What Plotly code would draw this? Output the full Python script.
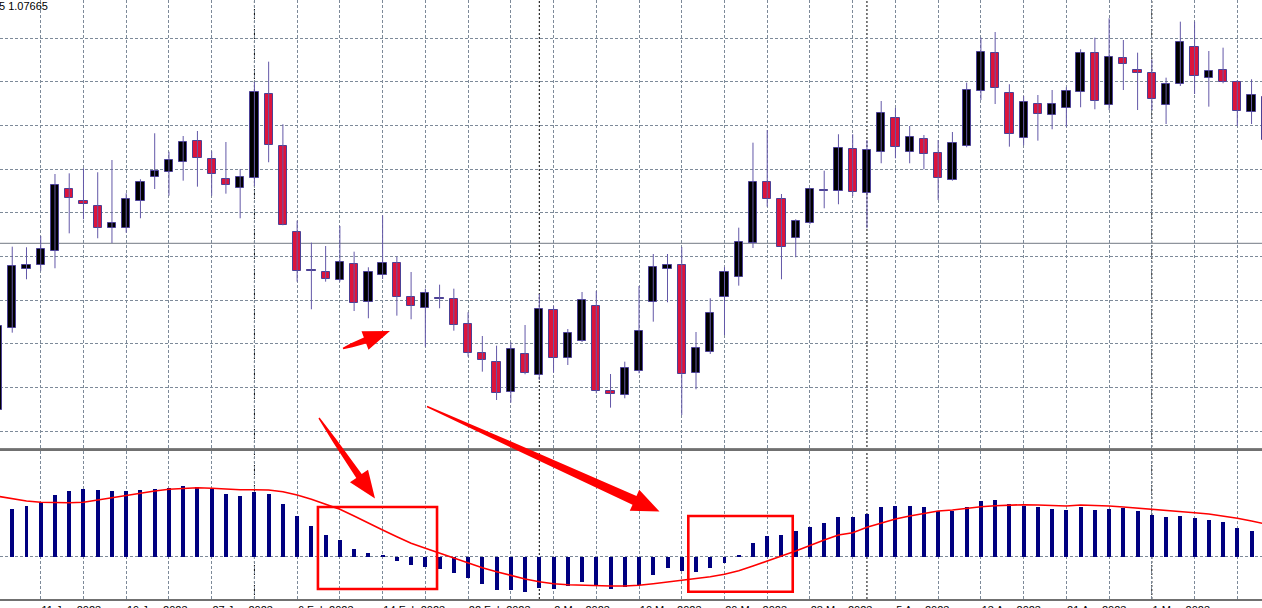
import math
import pandas as pd
import plotly.graph_objects as go

# ---------------- data ----------------
dates = pd.bdate_range("2023-01-06", "2023-05-11")  # daily trading sessions

open_ = [1.05100, 1.06326, 1.07220, 1.07270, 1.07481, 1.08411, 1.08231, 1.08165, 1.07835, 1.07835,
         1.08231, 1.08595, 1.08675, 1.08820, 1.09131, 1.08861, 1.08565, 1.08430, 1.08576, 1.09840,
         1.09060, 1.07775, 1.07190, 1.07166, 1.07046, 1.07286, 1.06720, 1.07125, 1.07301, 1.06791,
         1.06630, 1.06770, 1.06765, 1.06386, 1.05960, 1.05825, 1.05366, 1.05936, 1.05625, 1.06600,
         1.05876, 1.06140, 1.06656, 1.05381, 1.05330, 1.05681, 1.06716, 1.07211, 1.07271, 1.05651,
         1.05966, 1.06800, 1.07095, 1.07601, 1.08525, 1.08261, 1.07685, 1.07901, 1.08381, 1.08390,
         1.09020, 1.08355, 1.08975, 1.09480, 1.08966, 1.09161, 1.08951, 1.08550, 1.09060, 1.09890,
         1.10460, 1.09851, 1.09180, 1.09690, 1.09530, 1.09626, 1.09866, 1.10451, 1.09675, 1.10385,
         1.10200, 1.10160, 1.09675, 1.09986, 1.10541, 1.10076, 1.10196, 1.10016, 1.09570, 1.09795]
high_ = [1.06420, 1.07550, 1.07541, 1.07710, 1.08640, 1.08650, 1.08726, 1.08666, 1.08850, 1.08351,
         1.08561, 1.09251, 1.08975, 1.09210, 1.09285, 1.08981, 1.09120, 1.08715, 1.10020, 1.10325,
         1.09386, 1.07940, 1.07610, 1.07560, 1.07860, 1.07475, 1.07241, 1.08021, 1.07400, 1.07170,
         1.06920, 1.06980, 1.06920, 1.06566, 1.06210, 1.06065, 1.06116, 1.06375, 1.06840, 1.06660,
         1.06315, 1.06870, 1.06885, 1.05640, 1.05825, 1.06960, 1.07440, 1.07440, 1.07545, 1.06270,
         1.06776, 1.07245, 1.07835, 1.09110, 1.09300, 1.08340, 1.07961, 1.08426, 1.08690, 1.09236,
         1.09236, 1.09150, 1.09735, 1.09630, 1.09360, 1.09225, 1.09150, 1.09270, 1.10010, 1.10685,
         1.10770, 1.09986, 1.09810, 1.09825, 1.09900, 1.09941, 1.10511, 1.10685, 1.10976, 1.10650,
         1.10460, 1.10361, 1.10085, 1.10925, 1.10925, 1.10485, 1.10535, 1.10050, 1.10061, 1.09825]
low_ = [1.05055, 1.06260, 1.07061, 1.07190, 1.07226, 1.07750, 1.07961, 1.07676, 1.07605, 1.07760,
        1.07976, 1.08415, 1.08315, 1.08540, 1.08450, 1.08315, 1.08345, 1.07976, 1.08460, 1.08816,
        1.07871, 1.07025, 1.06611, 1.07025, 1.07025, 1.06585, 1.06476, 1.07065, 1.06515, 1.06461,
        1.06050, 1.06626, 1.06290, 1.05900, 1.05675, 1.05250, 1.05210, 1.05636, 1.05550, 1.05660,
        1.05775, 1.06120, 1.05351, 1.05135, 1.05276, 1.05651, 1.06425, 1.06716, 1.05025, 1.05411,
        1.05940, 1.06225, 1.06965, 1.07530, 1.08150, 1.07061, 1.07391, 1.07886, 1.08126, 1.08186,
        1.08310, 1.07826, 1.08801, 1.08876, 1.08801, 1.08711, 1.08250, 1.08540, 1.09041, 1.09750,
        1.09690, 1.09050, 1.09071, 1.09140, 1.09311, 1.09350, 1.09641, 1.09611, 1.09600, 1.09900,
        1.09600, 1.09600, 1.09390, 1.09960, 1.09840, 1.09650, 1.10001, 1.09360, 1.09390, 1.09120]
close_ = [1.06360, 1.07265, 1.07271, 1.07511, 1.08471, 1.08280, 1.08190, 1.07835, 1.07901, 1.08261,
          1.08516, 1.08685, 1.08850, 1.09125, 1.08876, 1.08636, 1.08471, 1.08591, 1.09875, 1.09075,
          1.07880, 1.07190, 1.07200, 1.07065, 1.07325, 1.06701, 1.07175, 1.07301, 1.06800, 1.06656,
          1.06855, 1.06776, 1.06371, 1.05960, 1.05850, 1.05360, 1.06011, 1.05651, 1.06615, 1.05876,
          1.06251, 1.06750, 1.05385, 1.05336, 1.05730, 1.06290, 1.07241, 1.07271, 1.05645, 1.06026,
          1.06560, 1.07175, 1.07625, 1.08516, 1.08270, 1.07541, 1.07940, 1.08411, 1.08405, 1.09035,
          1.08375, 1.08996, 1.09555, 1.09050, 1.09200, 1.08940, 1.08576, 1.09101, 1.09900, 1.10466,
          1.09926, 1.09240, 1.09716, 1.09540, 1.09690, 1.09885, 1.10451, 1.09731, 1.10400, 1.10295,
          1.10160, 1.09761, 1.09986, 1.10616, 1.10115, 1.10185, 1.10025, 1.09585, 1.09821, 1.09150]

macd_main = [0.00430, 0.00477, 0.00510, 0.00543, 0.00620, 0.00660, 0.00677, 0.00670, 0.00653, 0.00660,
             0.00670, 0.00677, 0.00687, 0.00707, 0.00697, 0.00677, 0.00627, 0.00603, 0.00643, 0.00630,
             0.00530, 0.00403, 0.00307, 0.00217, 0.00163, 0.00077, 0.00037, 0.00020, -0.00040, -0.00083,
             -0.00100, -0.00123, -0.00163, -0.00213, -0.00273, -0.00330, -0.00333, -0.00357, -0.00313, -0.00323,
             -0.00290, -0.00257, -0.00290, -0.00323, -0.00307, -0.00280, -0.00183, -0.00113, -0.00147, -0.00157,
             -0.00117, -0.00060, 0.00017, 0.00137, 0.00207, 0.00217, 0.00253, 0.00293, 0.00333, 0.00393,
             0.00393, 0.00430, 0.00493, 0.00503, 0.00510, 0.00493, 0.00453, 0.00453, 0.00493, 0.00557,
             0.00567, 0.00530, 0.00510, 0.00493, 0.00477, 0.00467, 0.00493, 0.00467, 0.00477, 0.00485,
             0.00460, 0.00413, 0.00397, 0.00410, 0.00387, 0.00367, 0.00343, 0.00288, 0.00260, 0.00230]
macd_signal = [0.00597, 0.00570, 0.00550, 0.00537, 0.00533, 0.00533, 0.00537, 0.00560, 0.00587, 0.00610,
               0.00633, 0.00650, 0.00667, 0.00677, 0.00683, 0.00677, 0.00667, 0.00663, 0.00663, 0.00660,
               0.00643, 0.00610, 0.00567, 0.00520, 0.00467, 0.00400, 0.00327, 0.00260, 0.00193, 0.00127,
               0.00077, 0.00027, -0.00023, -0.00067, -0.00117, -0.00157, -0.00197, -0.00230, -0.00257, -0.00277,
               -0.00287, -0.00293, -0.00297, -0.00300, -0.00300, -0.00293, -0.00277, -0.00260, -0.00243, -0.00227,
               -0.00207, -0.00183, -0.00147, -0.00100, -0.00047, 0.00000, 0.00050, 0.00107, 0.00160, 0.00210,
               0.00233, 0.00287, 0.00327, 0.00370, 0.00400, 0.00427, 0.00450, 0.00460, 0.00477, 0.00493,
               0.00503, 0.00510, 0.00513, 0.00510, 0.00503, 0.00500, 0.00510, 0.00507, 0.00500, 0.00490,
               0.00480, 0.00467, 0.00453, 0.00443, 0.00433, 0.00420, 0.00400, 0.00377, 0.00350, 0.00320]

level_price = 1.07600
month_starts = ["2023-02-01", "2023-03-01", "2023-04-03", "2023-05-01"]
header_text = "5 1.07665"

# ---------------- geometry ----------------
W, H = 1262, 608
PLOT_H = 599                     # plot area height (bottom margin holds the date labels)
X_RANGE = [0.1404, 88.733]
PRICE_RANGE = [1.045375, 1.1125]
MACD_RANGE = [-0.0043, 0.01055]
PRICE_DOM = [1 - 447.5 / PLOT_H, 1.0]
MACD_DOM = [0.0, 1 - 450.5 / PLOT_H]

GRID = "#7d8a99"
BODY_LINE = "#4c4196"
WICK = "#6358a8"
BEAR = "#DC143C"
BULL = "#000000"

n = len(dates)
x = list(range(n))

fig = go.Figure()

# wicks
wx, wy = [], []
for i in x:
    wx += [i, i, None]
    wy += [low_[i], high_[i], None]
fig.add_trace(go.Scatter(x=wx, y=wy, mode="lines", line=dict(color=WICK, width=1),
                         hoverinfo="skip", xaxis="x", yaxis="y"))

# bodies
MIN_BODY = 0.00005
for bull in (True, False):
    bx, bb, bh = [], [], []
    for i in x:
        if (close_[i] >= open_[i]) == bull:
            bx.append(i)
            bb.append(min(open_[i], close_[i]))
            bh.append(max(abs(close_[i] - open_[i]), MIN_BODY))
    fig.add_trace(go.Bar(x=bx, y=bh, base=bb, width=0.58,
                         marker=dict(color=BULL if bull else BEAR,
                                     line=dict(color=BODY_LINE, width=1)),
                         xaxis="x", yaxis="y", hoverinfo="skip"))

# MACD
fig.add_trace(go.Bar(x=x, y=macd_main, width=0.28, marker=dict(color="#000080", line=dict(width=0)),
                     xaxis="x2", yaxis="y2", hoverinfo="skip"))
fig.add_trace(go.Scatter(x=x, y=macd_signal, mode="lines", line=dict(color="#FF0000", width=1.6),
                         xaxis="x2", yaxis="y2", hoverinfo="skip"))

# axes
grid_ticks = list(range(0, n, 3))
tick_text = [f"{dates[i].day} {dates[i].strftime('%b')} {dates[i].year}" if i % 6 == 3 else ""
             for i in grid_ticks]

common_x = dict(range=X_RANGE, showgrid=True, gridcolor=GRID, gridwidth=1, griddash="3px,2px",
                zeroline=False, ticks="", tickmode="array", tickvals=grid_ticks, automargin=False)
fig.update_layout(
    width=W, height=H, margin=dict(l=0, r=0, t=0, b=H - PLOT_H, autoexpand=False),
    paper_bgcolor="white", plot_bgcolor="white", showlegend=False,
    barmode="overlay", bargap=0,
    xaxis=dict(**common_x, domain=[0, 1], anchor="y", showticklabels=False,
               showline=True, linecolor="#808080", linewidth=1),
    xaxis2=dict(**common_x, domain=[0, 1], anchor="y2", matches="x", ticktext=tick_text,
                showticklabels=True, ticklabelposition="outside right",
                tickfont=dict(family="Liberation Sans", size=11, color="#000000"),
                showline=True, mirror=True, linecolor="#707070", linewidth=1.5),
    yaxis=dict(domain=PRICE_DOM, range=PRICE_RANGE, tickmode="linear", tick0=1.106755, dtick=0.006545,
               showticklabels=False, showgrid=True, gridcolor=GRID, gridwidth=1, griddash="3px,2px",
               zeroline=False, ticks="", automargin=False),
    yaxis2=dict(domain=MACD_DOM, range=MACD_RANGE, tickmode="array", tickvals=[0],
                showticklabels=False, showgrid=True, gridcolor=GRID, gridwidth=1, griddash="3px,2px",
                zeroline=False, ticks="", automargin=False),
)

shapes = []
# monthly period separators
for d in month_starts:
    i = list(dates).index(pd.Timestamp(d))
    shapes.append(dict(type="line", xref="x", yref="paper", x0=i, x1=i, y0=0, y1=1,
                       line=dict(color="#000000", width=1, dash="2px,2px"), layer="between"))
# horizontal price level
shapes.append(dict(type="line", xref="paper", yref="y", x0=0, x1=1, y0=level_price, y1=level_price,
                   line=dict(color="#8e949c", width=1.3), layer="between"))

# red highlight boxes (in MACD coordinates)
boxes = [(22.46, 30.82, -0.0033, 0.0049), (48.46, 55.79, -0.00357, 0.0040)]
for x0, x1, y0, y1 in boxes:
    shapes.append(dict(type="rect", xref="x2", yref="y2", x0=x0, x1=x1, y0=y0, y1=y1,
                       line=dict(color="#FF0000", width=2.6), fillcolor="rgba(0,0,0,0)", layer="above"))

# red hand-drawn arrows (pixel geometry: start, head base, tip, half widths at start/mid/base/head)
arrows = [
    ((319, 418), (359, 476), (375, 498.5), 0.7, 2.2, 3.3, 11.0),
    ((427, 406.5), (634.5, 500.3), (659.5, 511.5), 0.7, 2.8, 4.8, 11.5),
    ((343, 348.5), (365, 340.5), (390, 331), 0.8, 2.2, 3.2, 10.0),
]


def to_paper(px, py):
    return px / W, 1 - py / PLOT_H


for s, b, t, w0, wm, w1, wh in arrows:
    dx, dy = t[0] - s[0], t[1] - s[1]
    L = math.hypot(dx, dy)
    ux, uy = dx / L, dy / L
    nx, ny = -uy, ux
    m = (s[0] + (b[0] - s[0]) * 0.4, s[1] + (b[1] - s[1]) * 0.4)
    pts = [(s[0] + nx * w0, s[1] + ny * w0), (m[0] + nx * wm, m[1] + ny * wm),
           (b[0] + nx * w1, b[1] + ny * w1),
           (b[0] + nx * wh, b[1] + ny * wh), t, (b[0] - nx * wh, b[1] - ny * wh),
           (b[0] - nx * w1, b[1] - ny * w1), (m[0] - nx * wm, m[1] - ny * wm),
           (s[0] - nx * w0, s[1] - ny * w0)]
    path = "M " + " L ".join(f"{to_paper(*p)[0]:.5f},{to_paper(*p)[1]:.5f}" for p in pts) + " Z"
    shapes.append(dict(type="path", xref="paper", yref="paper", path=path,
                       fillcolor="#FF0000", line=dict(width=0), layer="above"))

fig.update_layout(shapes=shapes)

fig.add_annotation(xref="paper", yref="paper", x=-3.5 / W, y=1, xanchor="left", yanchor="top",
                   text=header_text, showarrow=False, yshift=2,
                   font=dict(family="Liberation Sans", size=11, color="#000000"))

# remove the browser's default page margin so the chart starts at the window corner
fig.write_html("out.html", config={"displayModeBar": False},
               post_script="document.body.style.margin='0px';document.body.style.overflow='hidden';")
